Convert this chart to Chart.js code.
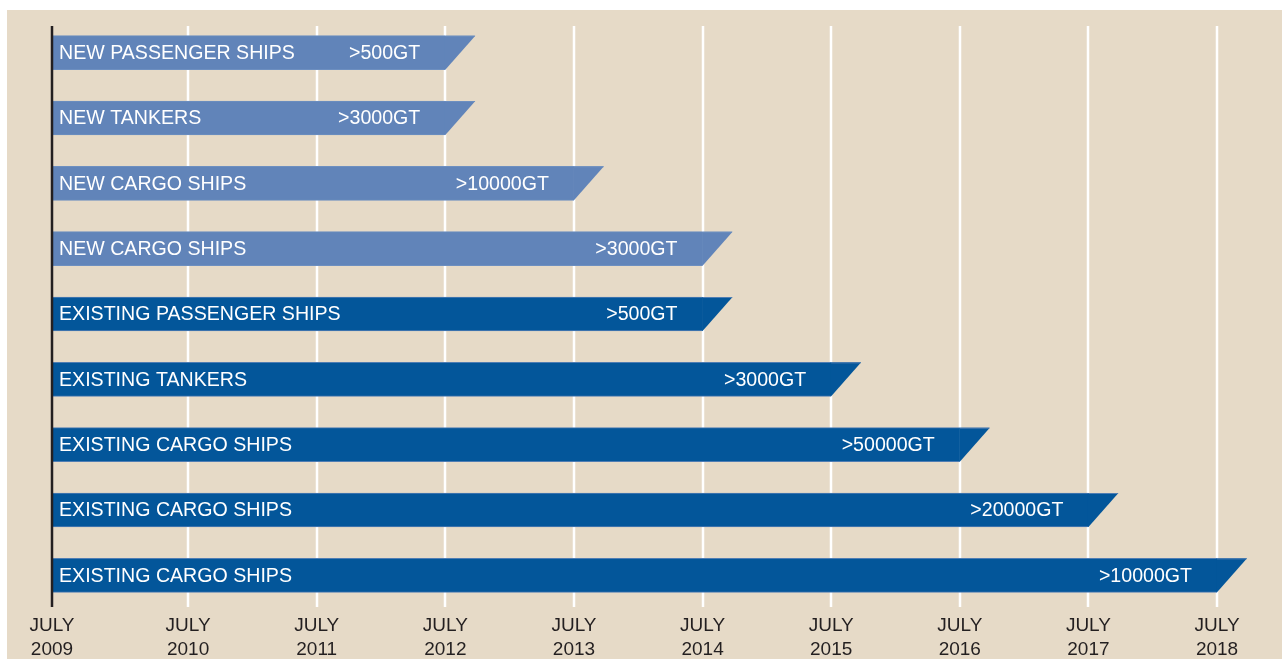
<!DOCTYPE html>
<html>
<head>
<meta charset="utf-8">
<script src="https://cdn.jsdelivr.net/npm/chart.js@4.4.1/dist/chart.umd.min.js"></script>
<style>
    html, body { margin: 0; padding: 0; background: #fff; }
    #div_chart { width: 1282px; height: 659px; }
</style>
</head>
<body>
<div id="div_chart"><canvas id="chart" width="1282" height="659"></canvas></div>
<script>
// chart data
const shipTypes = [
    "NEW PASSENGER SHIPS",
    "NEW TANKERS",
    "NEW CARGO SHIPS",
    "NEW CARGO SHIPS",
    "EXISTING PASSENGER SHIPS",
    "EXISTING TANKERS",
    "EXISTING CARGO SHIPS",
    "EXISTING CARGO SHIPS",
    "EXISTING CARGO SHIPS",
];
const sizeLabels = [">500GT", ">3000GT", ">10000GT", ">3000GT", ">500GT", ">3000GT", ">50000GT", ">20000GT", ">10000GT"];
const deadlineYears = [2012, 2012, 2013, 2014, 2014, 2015, 2016, 2017, 2018];
const isNewShip = [true, true, true, true, false, false, false, false, false];
const tickYears = [2009, 2010, 2011, 2012, 2013, 2014, 2015, 2016, 2017, 2018];
const tickMonth = "JULY";

// styles
const FONT = "'Liberation Sans', Arial, Helvetica, sans-serif";
const BG = "#e6dac7";
const LIGHT_BAR = "#6184b9";
const DARK_BAR = "#03569a";
const TEXT_DARK = "#231f20";
const GRID_TOP = 26;
const GRID_BOTTOM = 607;
const SLANT = 30;
// the time axis starts a little before July 2009 (bars start at the axis line)
const AXIS_MIN = 2008.942;
const AXIS_MAX = 2018.505;

const barColors = isNewShip.map(n => n ? LIGHT_BAR : DARK_BAR);
const edgeColors = isNewShip.map(n => n ? "#6d8fc0" : "#4f7db3");

// beige panel with white margin top/left
const backdrop = {
    id: "backdrop",
    beforeDraw(chart) {
        const ctx = chart.ctx;
        ctx.save();
        ctx.fillStyle = "#ffffff";
        ctx.fillRect(0, 0, chart.width, chart.height);
        ctx.fillStyle = BG;
        ctx.fillRect(7, 10, chart.width - 7, chart.height - 10);
        ctx.restore();
    },
};

// white year lines
const yearLines = {
    id: "yearLines",
    beforeDatasetsDraw(chart) {
        const ctx = chart.ctx;
        const xs = chart.scales.x;
        ctx.save();
        ctx.strokeStyle = "#ffffff";
        ctx.lineWidth = 2.5;
        tickYears.slice(1).forEach(v => {
            const x = Math.round(xs.getPixelForValue(v));
            ctx.beginPath();
            ctx.moveTo(x, GRID_TOP);
            ctx.lineTo(x, GRID_BOTTOM);
            ctx.stroke();
        });
        ctx.restore();
    },
};

// slanted bar tips, labels and the start axis
const barExtras = {
    id: "barExtras",
    afterDatasetsDraw(chart) {
        const ctx = chart.ctx;
        const meta = chart.getDatasetMeta(0);
        ctx.save();
        meta.data.forEach((bar, i) => {
            const top = bar.y - bar.height / 2;
            const bottom = bar.y + bar.height / 2;
            ctx.fillStyle = barColors[i];
            ctx.beginPath();
            ctx.moveTo(bar.x - 0.5, top);
            ctx.lineTo(bar.x + SLANT, top);
            ctx.lineTo(bar.x, bottom);
            ctx.lineTo(bar.x - 0.5, bottom);
            ctx.closePath();
            ctx.fill();

            ctx.strokeStyle = edgeColors[i];
            ctx.lineWidth = 1;
            ctx.beginPath();
            ctx.moveTo(bar.x, top + 0.5);
            ctx.lineTo(bar.x + SLANT - 0.5, top + 0.5);
            ctx.stroke();

            ctx.fillStyle = "#ffffff";
            ctx.font = "19.6px " + FONT;
            ctx.textBaseline = "middle";
            ctx.textAlign = "left";
            ctx.fillText(shipTypes[i], chart.chartArea.left + 7, bar.y + 1);
            ctx.textAlign = "right";
            ctx.fillText(sizeLabels[i], bar.x - 25, bar.y + 1);
        });

        const x0 = chart.chartArea.left;
        ctx.strokeStyle = TEXT_DARK;
        ctx.lineWidth = 2.5;
        ctx.beginPath();
        ctx.moveTo(x0, GRID_TOP);
        ctx.lineTo(x0, GRID_BOTTOM);
        ctx.stroke();
        ctx.restore();
    },
};

const config = {
    type: "bar",
    data: {
        labels: shipTypes,
        datasets: [{
            data: deadlineYears,
            backgroundColor: barColors,
            borderColor: edgeColors,
            borderWidth: { top: 1, bottom: 1, left: 0, right: 0 },
            borderSkipped: false,
            barThickness: 34,
        }],
    },
    options: {
        indexAxis: "y",
        responsive: false,
        maintainAspectRatio: false,
        animation: false,
        devicePixelRatio: 1,
        layout: { padding: { left: 52, right: 0, top: 20, bottom: 0 } },
        plugins: {
            legend: { display: false },
            tooltip: { enabled: false },
        },
        scales: {
            x: {
                type: "linear",
                position: "bottom",
                min: AXIS_MIN,
                max: AXIS_MAX,
                grid: { display: false, drawTicks: false },
                border: { display: false },
                afterBuildTicks(scale) {
                    // first label sits on the axis line
                    scale.ticks = tickYears.map((v, i) => ({ value: i === 0 ? AXIS_MIN : v }));
                },
                afterFit(scale) {
                    scale.height = 51;
                },
                ticks: {
                    autoSkip: false,
                    maxRotation: 0,
                    padding: 6,
                    color: TEXT_DARK,
                    font: { family: FONT, size: 19, lineHeight: 1.26 },
                    callback: (v, i) => [tickMonth, String(tickYears[i])],
                },
            },
            y: {
                type: "category",
                display: false,
                grid: { display: false },
            },
        },
    },
    plugins: [backdrop, yearLines, barExtras],
};

new Chart(document.getElementById("chart"), config);
</script>
</body>
</html>
